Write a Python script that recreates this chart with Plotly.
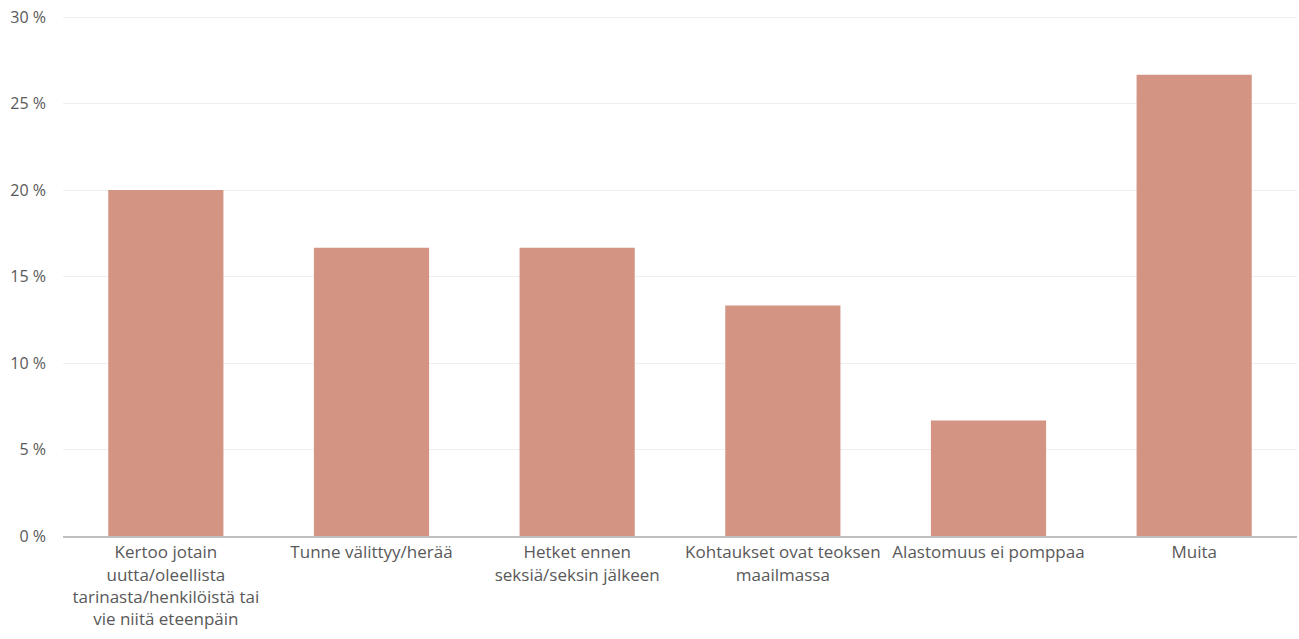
import plotly.graph_objects as go

categories = [
    "Kertoo jotain<br>uutta/oleellista<br>tarinasta/henkilöistä tai<br>vie niitä eteenpäin",
    "Tunne välittyy/herää",
    "Hetket ennen<br>seksiä/seksin jälkeen",
    "Kohtaukset ovat teoksen<br>maailmassa",
    "Alastomuus ei pomppaa",
    "Muita",
]
values = [20.0, 16.67, 16.67, 13.33, 6.67, 26.67]
y_ticks = [0, 5, 10, 15, 20, 25, 30]
y_tick_labels = ["0 %", "5 %", "10 %", "15 %", "20 %", "25 %", "30 %"]

fig = go.Figure(go.Bar(x=categories, y=values, marker_color="#D39484",
                       marker_line_width=0, hoverinfo="x+y"))

fig.update_layout(
    width=1299, height=639,
    margin=dict(l=63, r=2, t=16, b=103),
    plot_bgcolor="white", paper_bgcolor="white",
    bargap=0.44,
    font=dict(family="Open Sans, Liberation Sans, sans-serif", size=16, color="#595959"),
    showlegend=False,
)
fig.update_yaxes(range=[0, 30.06], tickvals=y_ticks, ticktext=y_tick_labels,
                 showgrid=True, gridcolor="#EFEFEF", gridwidth=1,
                 zeroline=False, showline=False, ticks="", ticklabelstandoff=16,
                 tickfont=dict(size=16), automargin=False,
                 ticklabeloverflow="allow")
fig.update_xaxes(showline=True, linecolor="#BFBFBF", linewidth=2,
                 ticks="", showgrid=False, tickangle=0, tickfont=dict(size=17),
                 automargin=False, ticklabeloverflow="allow")

fig.write_html("out.html",
               config={"displayModeBar": False},
               post_script="document.body.style.margin='0';document.body.style.overflow='hidden';")
